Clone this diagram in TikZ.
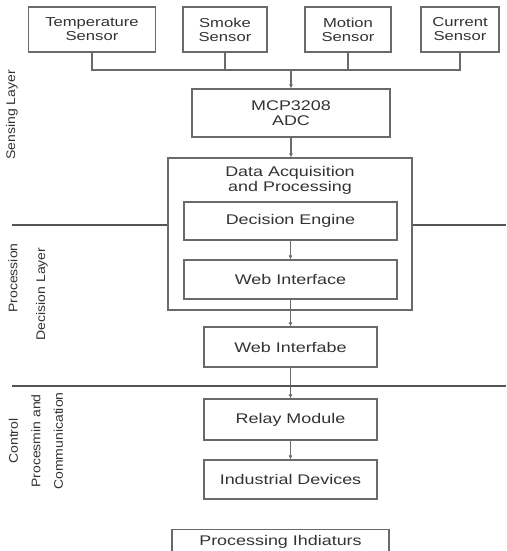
\documentclass[tikz,border=0pt]{standalone}
\usepackage{fontspec}
\setmainfont{Liberation Sans}[FakeStretch=1.28]
\newfontfamily\sidefont{Liberation Sans}[FakeStretch=1.12]
\usetikzlibrary{arrows.meta}
\definecolor{boxline}{HTML}{6A6A6A}
\definecolor{txt}{HTML}{333333}
\definecolor{sepline}{HTML}{555555}
\begin{document}
\begin{tikzpicture}[x=1pt,y=-1pt,
  box/.style={draw=boxline,line width=1.1pt,inner sep=0pt,align=center,text=txt,
    font=\fontsize{14}{15}\selectfont},
  sensbox/.style={box,font=\fontsize{13}{14}\selectfont,minimum height=45pt},
  link/.style={draw=boxline,line width=1.1pt},
  arr/.style={link,-{Latex[length=4pt,width=4pt]}},
  sep/.style={draw=sepline,line width=1.6pt},
  side/.style={rotate=90,text=txt,align=center,font=\sidefont\fontsize{12.5}{22.5}\selectfont}]
\useasboundingbox (0,0) rectangle (506,551);
\clip (0,0) rectangle (506,551);
\fill[white] (0,0) rectangle (506,551);
% sensors
\node[sensbox,minimum width=127pt] (temp) at (92,29.5) {Temperature\\Sensor};
\node[sensbox,minimum width=84pt] (smoke) at (225,29.5) {Smoke\\Sensor};
\node[sensbox,minimum width=86pt] (motion) at (348,29.5) {Motion\\Sensor};
\node[sensbox,minimum width=78pt] (current) at (460,29.5) {Current\\Sensor};
\coordinate (busL) at (92,70);
\coordinate (busR) at (460,70);
\coordinate (busM) at (291,70);
\draw[link] (temp.south) -- (temp.south |- busL) -- (busR) -- (current.south);
\draw[link] (smoke.south) -- (smoke.south |- busL);
\draw[link] (motion.south) -- (motion.south |- busL);
% ADC
\node[box,minimum width=198pt,minimum height=48pt] (adc) at (291,113) {MCP3208\\ADC};
\draw[arr] (busM) -- (adc.north);
% DAQ
\node[box,minimum width=244pt,minimum height=152pt] (daq) at (290,234) {};
\node[text=txt,align=center,inner sep=0pt,font=\fontsize{14}{15}\selectfont] (daqt) at (290,180) {Data Acquisition\\and Processing};
\node[box,minimum width=213pt,minimum height=38pt] (dec) at (290.5,221) {Decision Engine};
\node[box,minimum width=213pt,minimum height=39pt] (web1) at (290.5,279.5) {Web Interface};
\draw[arr] (adc.south) -- (daq.north -| adc.south);
\draw[arr] (dec.south) -- (web1.north);
% lower chain
\node[box,minimum width=173pt,minimum height=40pt] (web2) at (290.5,347) {Web Interfabe};
\node[box,minimum width=173pt,minimum height=41pt] (relay) at (290.5,419.5) {Relay Module};
\node[box,minimum width=173pt,minimum height=39pt] (ind) at (290.5,479.5) {Industrial Devices};
\node[box,minimum width=217pt,minimum height=24pt,anchor=north] (proc) at (280.5,529) {Processing Ihdiaturs};
\draw[arr] (web1.south) -- (web2.north);
\draw[arr] (web2.south) -- (relay.north);
\draw[arr] (relay.south) -- (ind.north);
% layer separators
\coordinate (s1L) at (12,225);
\coordinate (s1R) at (506,225);
\coordinate (s2L) at (12,386);
\coordinate (s2R) at (506,386);
\draw[sep] (s1L) -- (s1L -| daq.west);
\draw[sep] (s1R -| daq.east) -- (s1R);
\draw[sep] (s2L) -- (s2R);
% side labels
\node[side] (lsens) at (12,115) {Sensing Layer};
\node[side] (lproc) at (13,278) {Procession};
\node[side] (ldec) at (42,294) {Decision Layer};
\node[side] (lctrl) at (36,441) {Control\\Procesmin and\\Communication};
\end{tikzpicture}
\end{document}
